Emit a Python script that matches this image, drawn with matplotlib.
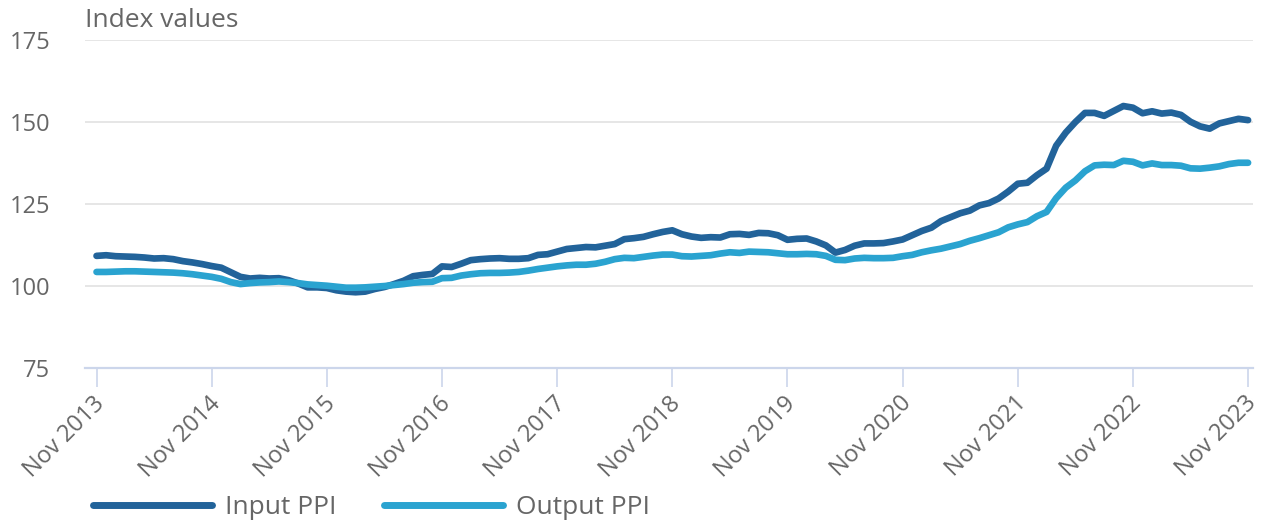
import numpy as np
import matplotlib.pyplot as plt
import matplotlib.transforms as mtransforms

plt.rcParams['font.family'] = ['Open Sans', 'DejaVu Sans']

# monthly index values, Nov 2013 .. Nov 2023
input_ppi = [
    109.2, 109.4, 109.1, 109.0, 108.9, 108.7, 108.4, 108.5, 108.2, 107.6, 107.2, 106.7,
    106.1, 105.6, 104.2, 102.8, 102.3, 102.5, 102.3, 102.4, 101.8, 100.8, 99.6, 99.6,
    99.4, 98.7, 98.3, 98.1, 98.3, 99.1, 99.7, 100.6, 101.6, 103.0, 103.4, 103.7,
    106.0, 105.8, 106.8, 107.9, 108.2, 108.4, 108.5, 108.3, 108.3, 108.5, 109.5, 109.7,
    110.5, 111.3, 111.6, 111.9, 111.8, 112.3, 112.8, 114.3, 114.6, 115.0, 115.8, 116.5,
    117.0, 115.8, 115.1, 114.7, 114.9, 114.8, 115.8, 115.9, 115.6, 116.2, 116.1, 115.5,
    114.1, 114.4, 114.5, 113.6, 112.4, 110.2, 111.0, 112.3, 113.0, 113.0, 113.1, 113.6,
    114.2, 115.5, 116.8, 117.8, 119.8, 121.0, 122.2, 123.0, 124.6, 125.3, 126.7, 128.8,
    131.2, 131.5, 133.8, 135.8, 142.8, 146.8, 150.0, 152.8, 152.8, 151.9, 153.4, 154.9,
    154.4, 152.7, 153.3, 152.6, 152.9, 152.2, 150.1, 148.7, 148.0, 149.6, 150.3, 151.0,
    150.6,
]
output_ppi = [
    104.3, 104.3, 104.4, 104.5, 104.5, 104.4, 104.3, 104.2, 104.1, 103.9, 103.6, 103.2,
    102.8, 102.2, 101.2, 100.6, 100.9, 101.1, 101.2, 101.4, 101.2, 100.9, 100.5, 100.3,
    100.1, 99.8, 99.5, 99.5, 99.6, 99.8, 100.0, 100.3, 100.6, 101.0, 101.2, 101.3,
    102.4, 102.5, 103.2, 103.6, 103.9, 104.0, 104.0, 104.1, 104.3, 104.7, 105.2, 105.6,
    106.0, 106.3, 106.5, 106.5, 106.8, 107.4, 108.2, 108.6, 108.5, 108.9, 109.3, 109.6,
    109.6, 109.1, 109.0, 109.2, 109.4, 109.9, 110.3, 110.1, 110.5, 110.4, 110.3, 110.0,
    109.7, 109.7, 109.8, 109.7, 109.2, 108.0, 107.9, 108.4, 108.6, 108.5, 108.5, 108.6,
    109.1, 109.5, 110.3, 110.9, 111.4, 112.1, 112.8, 113.8, 114.6, 115.5, 116.4, 117.9,
    118.8, 119.5, 121.3, 122.6, 126.8, 130.0, 132.2, 135.0, 136.8, 137.0, 136.9, 138.2,
    137.9, 136.8, 137.4, 136.9, 136.9, 136.7, 135.9, 135.8, 136.1, 136.5, 137.2, 137.6,
    137.6,
]
tick_labels = ['Nov 2013', 'Nov 2014', 'Nov 2015', 'Nov 2016', 'Nov 2017', 'Nov 2018',
               'Nov 2019', 'Nov 2020', 'Nov 2021', 'Nov 2022', 'Nov 2023']
y_ticks = [75, 100, 125, 150, 175]

dark = '#22639a'
light = '#2aa3d0'
grey = '#666666'

fig = plt.figure(figsize=(12.63, 5.28), dpi=100)
ax = fig.add_axes([0.0673, 0.303, 0.9247, 0.621])

months = np.arange(len(input_ppi))
ax.plot(months, input_ppi, color=dark, lw=4.8, solid_capstyle='round', label='Input PPI')
ax.plot(months, output_ppi, color=light, lw=4.8, solid_capstyle='round', label='Output PPI')

ax.set_xlim(-1.2, 120.5)
ax.set_ylim(75, 175)
ax.set_yticks(y_ticks)
ax.set_xticks(np.arange(0, 121, 12))
ax.set_xticklabels(tick_labels, rotation=45, ha='right', va='center', rotation_mode='anchor')

for sp in ['top', 'right', 'left']:
    ax.spines[sp].set_visible(False)
ax.spines['bottom'].set_color('#ccd6eb')
ax.spines['bottom'].set_linewidth(1.6)

ax.grid(axis='y', color='#e6e6e6', lw=1.4)
ax.set_axisbelow(True)
ax.tick_params(axis='y', length=0, pad=25, labelsize=17, labelcolor=grey)
ax.tick_params(axis='x', length=14, width=1.2, color='#ccd6eb', pad=9, labelsize=17, labelcolor=grey)

# nudge the rotated labels a little to the right, like the original
shift = mtransforms.ScaledTranslation(5 / 100, 0, fig.dpi_scale_trans)
for lbl in ax.get_xticklabels():
    lbl.set_transform(lbl.get_transform() + shift)

fig.text(0.0673, 0.962, 'Index values', fontsize=19, color=grey, va='center', ha='left')

fig.legend(loc='center left', bbox_to_anchor=(0.0736, 0.038), ncol=2, frameon=False,
           borderpad=0, borderaxespad=0,
           handlelength=4.5, handletextpad=0.5, columnspacing=1.8, fontsize=19,
           labelcolor=grey)
for line in fig.legends[0].get_lines():
    line.set_linewidth(5)

fig.savefig('out.png', dpi=100)
